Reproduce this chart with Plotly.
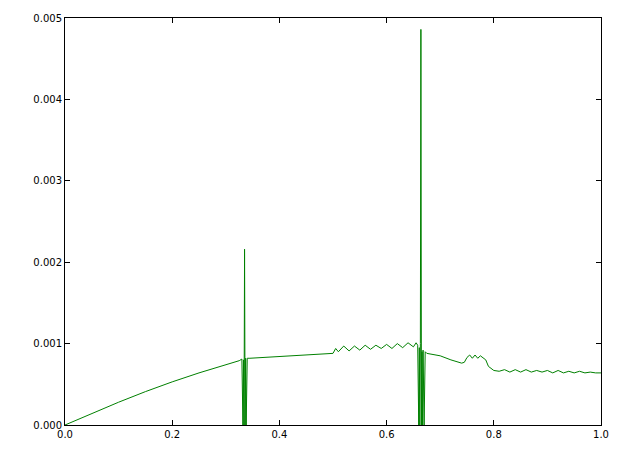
import plotly.graph_objects as go

x_vals = [0.0, 0.05, 0.10, 0.15, 0.20, 0.25, 0.30, 0.325, 0.330,
          0.332, 0.333, 0.334, 0.335, 0.336, 0.337, 0.338, 0.339, 0.340,
          0.345, 0.40, 0.45, 0.50,
          0.505, 0.51, 0.52, 0.53, 0.54, 0.55, 0.56, 0.57, 0.58, 0.59, 0.60,
          0.61, 0.62, 0.63, 0.64, 0.65, 0.655, 0.658,
          0.660, 0.661, 0.662, 0.663, 0.664, 0.665, 0.666, 0.667, 0.668, 0.670, 0.672,
          0.675, 0.70, 0.72, 0.74, 0.745, 0.75, 0.755, 0.76, 0.765, 0.77, 0.775,
          0.78, 0.785, 0.79, 0.80,
          0.81, 0.82, 0.83, 0.84, 0.85, 0.86, 0.87, 0.88, 0.89, 0.90,
          0.91, 0.92, 0.93, 0.94, 0.95, 0.96, 0.97, 0.98, 0.99, 1.0]
y_vals = [0.0, 0.00014, 0.00028, 0.00041, 0.00053, 0.00064, 0.00074, 0.00079, 0.00081,
          0.0, 0.0008, 0.0, 0.00216, 0.0, 0.00082, 0.0, 0.0008, 0.00082,
          0.00082, 0.00084, 0.00086, 0.00088,
          0.00094, 0.00090, 0.00097, 0.00091, 0.00097, 0.00092, 0.00098, 0.00093, 0.00098, 0.00094, 0.00099,
          0.00094, 0.00100, 0.00095, 0.00101, 0.00096, 0.00101, 0.00098,
          0.0, 0.00095, 0.0, 0.0010, 0.00486, 0.0, 0.0009, 0.0, 0.00092, 0.0, 0.0009,
          0.00088, 0.00085, 0.00080, 0.00076, 0.00077, 0.00083, 0.00086, 0.00082, 0.00086, 0.00082, 0.00085,
          0.00082, 0.00080, 0.00072, 0.00067,
          0.00066, 0.00068, 0.00065, 0.00068, 0.00065, 0.00068, 0.00065, 0.00067, 0.00065, 0.00067,
          0.00064, 0.00067, 0.00064, 0.00066, 0.00064, 0.00066, 0.00064, 0.00065, 0.00064, 0.00064]

x_ticks = [0.0, 0.2, 0.4, 0.6, 0.8, 1.0]
x_tick_text = ["0.0", "0.2", "0.4", "0.6", "0.8", "1.0"]
y_ticks = [0.0, 0.001, 0.002, 0.003, 0.004, 0.005]
y_tick_text = ["0.000", "0.001", "0.002", "0.003", "0.004", "0.005"]

fig = go.Figure()
fig.add_trace(go.Scatter(x=x_vals, y=y_vals, mode="lines",
                         line=dict(color="#008000", width=1), showlegend=False))

axis_common = dict(showgrid=False, zeroline=False, showline=True, linecolor="black",
                   linewidth=1, mirror="ticks", ticks="inside", ticklen=5,
                   tickcolor="black", tickfont=dict(family="DejaVu Sans", size=10, color="black"))
fig.update_xaxes(range=[0, 1], tickvals=x_ticks, ticktext=x_tick_text, **axis_common)
fig.update_yaxes(range=[0, 0.005], tickvals=y_ticks, ticktext=y_tick_text, **axis_common)
fig.update_layout(width=623, height=452, paper_bgcolor="white", plot_bgcolor="white",
                  margin=dict(l=65, r=22, t=12, b=21))
fig.write_html("out.html")
